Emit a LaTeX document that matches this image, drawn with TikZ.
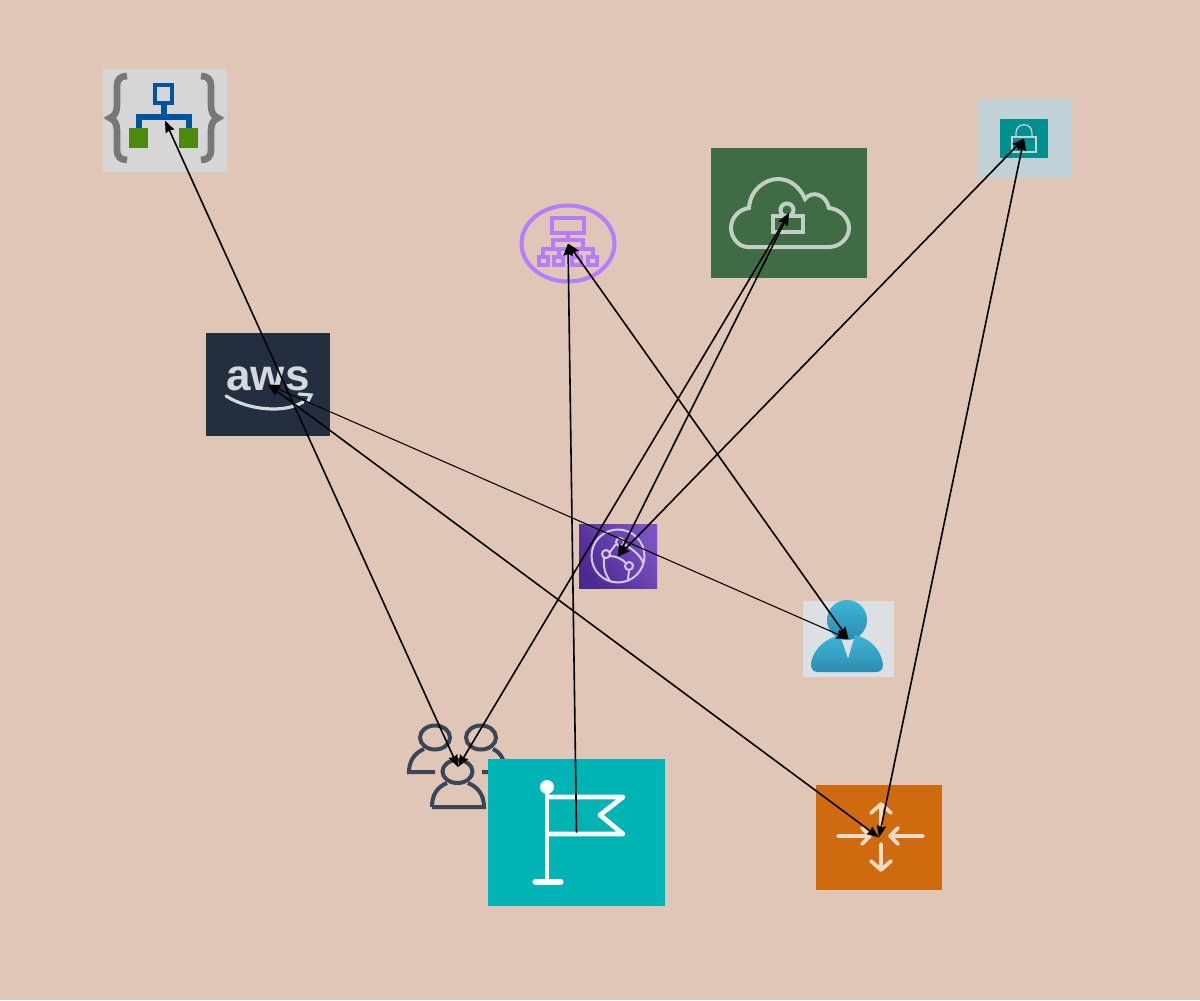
\documentclass[tikz,border=0pt]{standalone}
\usepackage{fontspec}
\usetikzlibrary{arrows.meta}
\newfontfamily\awsfont{Liberation Sans}
\definecolor{paper}{HTML}{E0C6B7}
\definecolor{tplgrey}{HTML}{D6D6D6}
\definecolor{tplbrace}{HTML}{777777}
\definecolor{tplblue}{HTML}{00539F}
\definecolor{tplgreen}{HTML}{4C8A0E}
\definecolor{orgpurple}{HTML}{B67CFF}
\definecolor{cloudgreen}{HTML}{3F6B45}
\definecolor{cloudline}{HTML}{C2D0C4}
\definecolor{lockback}{HTML}{C0D1D8}
\definecolor{lockteal}{HTML}{008F8F}
\definecolor{awsnavy}{HTML}{232F3E}
\definecolor{awsgrey}{HTML}{D5D8DC}
\definecolor{frontlow}{HTML}{4A2A90}
\definecolor{fronthigh}{HTML}{7C52C2}
\definecolor{frontline}{HTML}{D4C8E6}
\definecolor{personback}{HTML}{DDE0E3}
\definecolor{personhigh}{HTML}{3DB6D8}
\definecolor{personlow}{HTML}{2C8DB0}
\definecolor{usersink}{HTML}{3A4558}
\definecolor{flagteal}{HTML}{00B3B5}
\definecolor{routerorange}{HTML}{D06A0F}
\definecolor{routerline}{HTML}{F2DCC6}
\tikzset{every picture/.style={line width=0.75pt},
	imgbox/.style={inner sep=0pt,outer sep=0pt},
	link/.style={draw=black,line width=1.2pt},
	thinlink/.style={draw=black,line width=0.8pt},
	>={Stealth[length=9pt,width=7pt,inset=1pt]}}

\begin{document}
\begin{tikzpicture}[x=0.75pt,y=0.75pt,yscale=-1,xscale=1]
		\useasboundingbox (0,0) rectangle (1200,1000);
		\fill [paper] (0,0) rectangle (1200,1000);
		
		%Template icon
		\node (template) [imgbox,fill=tplgrey,minimum width=93pt,minimum height=77.25pt] at (165,120.5) {};
		\draw [tplbrace,line width=5pt] (127,76) .. controls (120,76) and (117,80) .. (117,86) -- (117,105) .. controls (117,112) and (115,116) .. (110,118) .. controls (115,120) and (117,124) .. (117,131) -- (117,150) .. controls (117,156) and (120,160) .. (127,160);
		\draw [tplbrace,line width=5pt] (201,76) .. controls (208,76) and (211,80) .. (211,86) -- (211,105) .. controls (211,112) and (213,116) .. (218,118) .. controls (213,120) and (211,124) .. (211,131) -- (211,150) .. controls (211,156) and (208,160) .. (201,160);
		\draw [tplblue,line width=4.5pt] (164,105) -- (164,117) (139,130) -- (139,117) -- (189,117) -- (189,130);
		\draw [tplblue,fill=tplgrey,line width=3.5pt] (155,85) rectangle (172,103);
		\fill [tplgreen] (129,128) rectangle (148,148);
		\fill [tplgreen] (179,128) rectangle (198,148);
		
		%Org chart icon
		\node (orgchart) [imgbox,minimum width=72pt,minimum height=59.25pt] at (568,243.5) {};
		\draw [orgpurple,line width=3pt] (568,243.5) ellipse (46.5 and 38);
		\draw [orgpurple,line width=2.5pt] (552,218) rectangle (584,233);
		\draw [orgpurple,line width=2.5pt] (568,233) -- (568,240) (553,250) -- (553,240) -- (583,240) -- (583,250) (543,257) -- (543,249) -- (593,249) -- (593,257) (559,249) -- (559,257) (577,249) -- (577,257);
		\foreach \sx in {539,554,572,588}
			\draw [orgpurple,line width=2.5pt] (\sx,257) rectangle ++(9,8);
		
		%Cloud icon
		\node (cloud) [imgbox,fill=cloudgreen,minimum width=117pt,minimum height=97.5pt] at (789,213) {};
		\draw [cloudline,line width=3pt] (748,247) .. controls (738,247) and (731,237) .. (731,228) .. controls (731,217) and (740,209) .. (749,208) .. controls (750,190) and (765,179) .. (778,179) .. controls (790,179) and (800,187) .. (805,199) .. controls (812,190) and (826,194) .. (829,208) .. controls (840,209) and (849,218) .. (849,228) .. controls (849,238) and (840,247) .. (829,247) -- cycle;
		\draw [cloudline,line width=3pt] (773,216) rectangle (803,232);
		\draw [cloudline,line width=3pt] (787,210) circle (6.5);
		
		%Lock icon
		\node (lock) [imgbox,fill=lockback,minimum width=70.5pt,minimum height=59.25pt] at (1024,138.5) {};
		\fill [lockteal] (1000,119) rectangle (1048,158);
		\draw [lockback,line width=1pt] (1012,137) rectangle (1036,152);
		\draw [lockback,line width=1pt] (1016,137) -- (1016,133) .. controls (1016,122) and (1032,122) .. (1032,133) -- (1032,137);
		
		%Aws icon
		\node (aws) [imgbox,fill=awsnavy,minimum width=93pt,minimum height=77.25pt] at (268,384.5) {};
		\node (awstext) [imgbox,anchor=base,text=awsgrey,font=\awsfont\bfseries\fontsize{33}{33}\selectfont] at (268,390) {aws};
		\draw [awsgrey,line width=2.4pt,line cap=round] (226,396) .. controls (250,411) and (285,413) .. (303,402);
		\draw [awsgrey,line width=2.4pt,line cap=round] (299,394) -- (311,395) -- (308,401);
		
		%Front door icon
		\node (frontdoor) [imgbox,left color=frontlow,right color=fronthigh,shading angle=125,minimum width=58.5pt,minimum height=48.5pt] at (618,556.5) {};
		\draw [frontline,line width=1.5pt] (618,556) circle (26.5);
		\draw [frontline,line width=1.5pt] (606,554) circle (4) (620,542) circle (4) (629,566) circle (4);
		\draw [frontline,line width=1.5pt] (610,552) -- (616,544) (610,556) .. controls (616,556) and (622,559) .. (626,563) (624,544) .. controls (634,550) and (641,556) .. (643,563) (604,558) .. controls (603,566) and (605,574) .. (610,581) (629,570) -- (628,580);
		
		%Person icon
		\node (person) [imgbox,fill=personback,minimum width=68.25pt,minimum height=57pt] at (848.5,639) {};
		\shade [top color=personhigh,bottom color=personlow] (847,620) circle (20);
		\shade [top color=personhigh,bottom color=personlow] (811,664) .. controls (813,648) and (827,638) .. (840,635) -- (848,659) -- (855,635) .. controls (870,638) and (881,650) .. (883,664) .. controls (883,670) and (880,672) .. (876,672) -- (818,672) .. controls (814,672) and (811,670) .. (811,664) -- cycle;
		
		%Users icon
		\node (users) [imgbox,minimum width=72pt,minimum height=62pt] at (458,767) {};
		\draw [usersink,line width=3pt] (435,737.5) ellipse (15 and 12);
		\draw [usersink,line width=3pt] (481,737.5) ellipse (15 and 12);
		\draw [usersink,line width=3pt] (435,772) -- (409,772) .. controls (409,762) and (414,753) .. (424,749);
		\draw [usersink,line width=3pt] (482,772) -- (505,772) .. controls (505,762) and (502,753) .. (493,749);
		\draw [usersink,line width=3pt] (457.5,771.5) ellipse (15 and 11.5);
		\draw [usersink,line width=3pt] (432,807) .. controls (432,795) and (437,787) .. (447,783) (468,783) .. controls (478,787) and (484,795) .. (484,807) -- (432,807);
		
		%Flag icon
		\node (flag) [imgbox,fill=flagteal,minimum width=132.75pt,minimum height=110.25pt] at (576.5,832.5) {};
		\fill [white] (547,787) circle (7);
		\draw [white,line width=3.6pt] (547,790) -- (547,882);
		\draw [white,line width=3.8pt,line cap=round] (535,882) -- (561,882);
		\draw [white,line width=3.6pt,line cap=round,line join=round] (548,797) -- (623,797) -- (600,815) -- (623,834) -- (548,834);
		
		%Router icon
		\node (router) [imgbox,fill=routerorange,minimum width=94.5pt,minimum height=78.75pt] at (879,837.5) {};
		\draw [routerline,line width=2.8pt,line cap=round,line join=round] (881,831) -- (881,804) (871,813) -- (881,804) -- (891,813);
		\draw [routerline,line width=2.8pt,line cap=round,line join=round] (881,844) -- (881,870) (871,861) -- (881,870) -- (891,861);
		\draw [routerline,line width=2.8pt,line cap=round,line join=round] (838,836) -- (870,836) (862,828) -- (870,836) -- (862,844);
		\draw [routerline,line width=2.8pt,line cap=round,line join=round] (923,836) -- (890,836) (898,828) -- (890,836) -- (898,844);
		
		%Straight Lines
		\draw [link,<->] (users.center) -- (template.center);
		\draw [link,<->] (users.center) -- (cloud.center);
		\draw [link,->] (flag.center) -- (orgchart.center);
		\draw [link,<->] (orgchart.center) -- (person.center);
		\draw [link,<->] (frontdoor.center) -- (cloud.center);
		\draw [link,<->] (frontdoor.center) -- (lock.center);
		\draw [link,<->] (router.center) -- (lock.center);
		\draw [link,<->] (router.center) -- (aws.center);
		\draw [thinlink,<->] (person.center) -- (aws.center);
		
	\end{tikzpicture}
\end{document}
